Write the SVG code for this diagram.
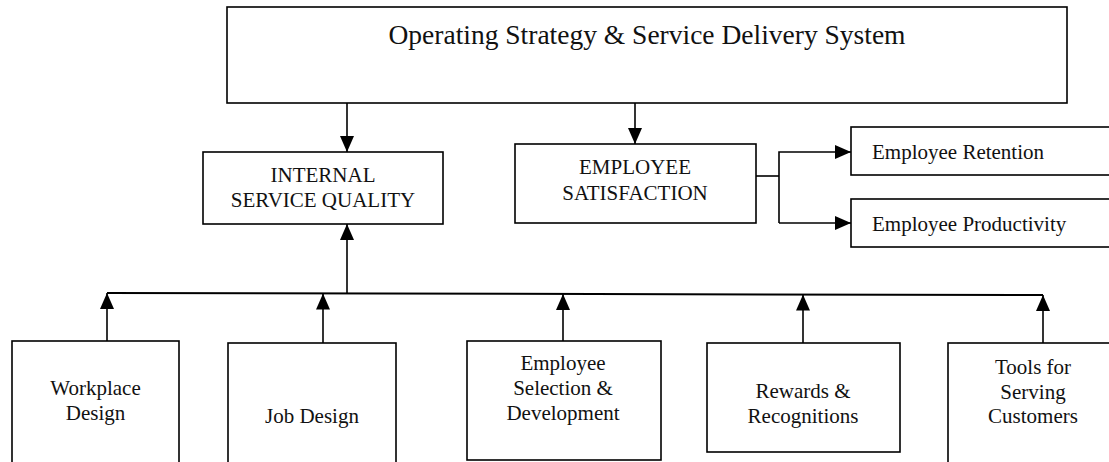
<svg xmlns="http://www.w3.org/2000/svg" width="1109" height="462" viewBox="0 0 1109 462">
  <style>
    .box { fill: #ffffff; stroke: #000000; stroke-width: 1.6; }
    .lbl { font-family: "Liberation Serif", "Times New Roman", serif; font-size: 21px; fill: #111111; text-anchor: middle; }
    .lbl-left { font-family: "Liberation Serif", "Times New Roman", serif; font-size: 21px; fill: #111111; }
    .title { font-family: "Liberation Serif", "Times New Roman", serif; font-size: 27.5px; fill: #111111; text-anchor: middle; }
    .wire { fill: none; stroke: #000000; stroke-width: 1.6; }
    .bus { fill: none; stroke: #000000; stroke-width: 2; }
  </style>
  <defs>
    <marker id="arrow" markerUnits="userSpaceOnUse" markerWidth="16" markerHeight="14" refX="16" refY="7" orient="auto">
      <path d="M0,0 L16,7 L0,14 Z" fill="#000000"/>
    </marker>
  </defs>
  <rect width="1109" height="462" fill="#ffffff"/>

  <!-- connectors -->
  <g id="connectors">
    <line class="wire" x1="347" y1="103" x2="347" y2="152" marker-end="url(#arrow)"/>
    <line class="wire" x1="635" y1="103" x2="635" y2="144" marker-end="url(#arrow)"/>
    <polyline class="wire" points="756,176 779,176"/>
    <polyline class="wire" points="779,223 779,152 851,152" marker-end="url(#arrow)"/>
    <polyline class="wire" points="779,223 851,223" marker-end="url(#arrow)"/>
    <line class="bus" x1="107" y1="293" x2="1043" y2="295"/>
    <line class="wire" x1="347" y1="294" x2="347" y2="224" marker-end="url(#arrow)"/>
    <line class="wire" x1="107" y1="341" x2="107" y2="293" marker-end="url(#arrow)"/>
    <line class="wire" x1="323" y1="343" x2="323" y2="293.5" marker-end="url(#arrow)"/>
    <line class="wire" x1="563" y1="341" x2="563" y2="294" marker-end="url(#arrow)"/>
    <line class="wire" x1="803" y1="343" x2="803" y2="294.5" marker-end="url(#arrow)"/>
    <line class="wire" x1="1043" y1="343" x2="1043" y2="295" marker-end="url(#arrow)"/>
  </g>

  <g id="operating-strategy">
    <rect class="box" x="227" y="7" width="840" height="96"/>
    <text class="title" x="647" y="44">Operating Strategy &amp; Service Delivery System</text>
  </g>

  <g id="internal-service-quality">
    <rect class="box" x="203" y="152" width="240" height="72"/>
    <text class="lbl" x="323" y="182">INTERNAL</text>
    <text class="lbl" x="323" y="207">SERVICE QUALITY</text>
  </g>

  <g id="employee-satisfaction">
    <rect class="box" x="515" y="144" width="241" height="79"/>
    <text class="lbl" x="635" y="174">EMPLOYEE</text>
    <text class="lbl" x="635" y="200">SATISFACTION</text>
  </g>

  <g id="employee-retention">
    <rect class="box" x="851" y="127" width="270" height="48"/>
    <text class="lbl-left" x="872" y="159">Employee Retention</text>
  </g>

  <g id="employee-productivity">
    <rect class="box" x="851" y="199" width="270" height="48"/>
    <text class="lbl-left" x="872" y="231">Employee Productivity</text>
  </g>

  <g id="workplace-design">
    <rect class="box" x="12" y="341" width="167" height="125"/>
    <text class="lbl" x="95.5" y="395">Workplace</text>
    <text class="lbl" x="95.5" y="420">Design</text>
  </g>

  <g id="job-design">
    <rect class="box" x="228" y="343" width="168" height="123"/>
    <text class="lbl" x="312" y="423">Job Design</text>
  </g>

  <g id="employee-selection">
    <rect class="box" x="467" y="341" width="194" height="119"/>
    <text class="lbl" x="563" y="370">Employee</text>
    <text class="lbl" x="563" y="395">Selection &amp;</text>
    <text class="lbl" x="563" y="420">Development</text>
  </g>

  <g id="rewards">
    <rect class="box" x="707" y="343" width="193" height="109"/>
    <text class="lbl" x="803" y="398">Rewards &amp;</text>
    <text class="lbl" x="803" y="423">Recognitions</text>
  </g>

  <g id="tools">
    <rect class="box" x="948" y="343" width="180" height="123"/>
    <text class="lbl" x="1033" y="374">Tools for</text>
    <text class="lbl" x="1033" y="399">Serving</text>
    <text class="lbl" x="1033" y="423">Customers</text>
  </g>
</svg>
